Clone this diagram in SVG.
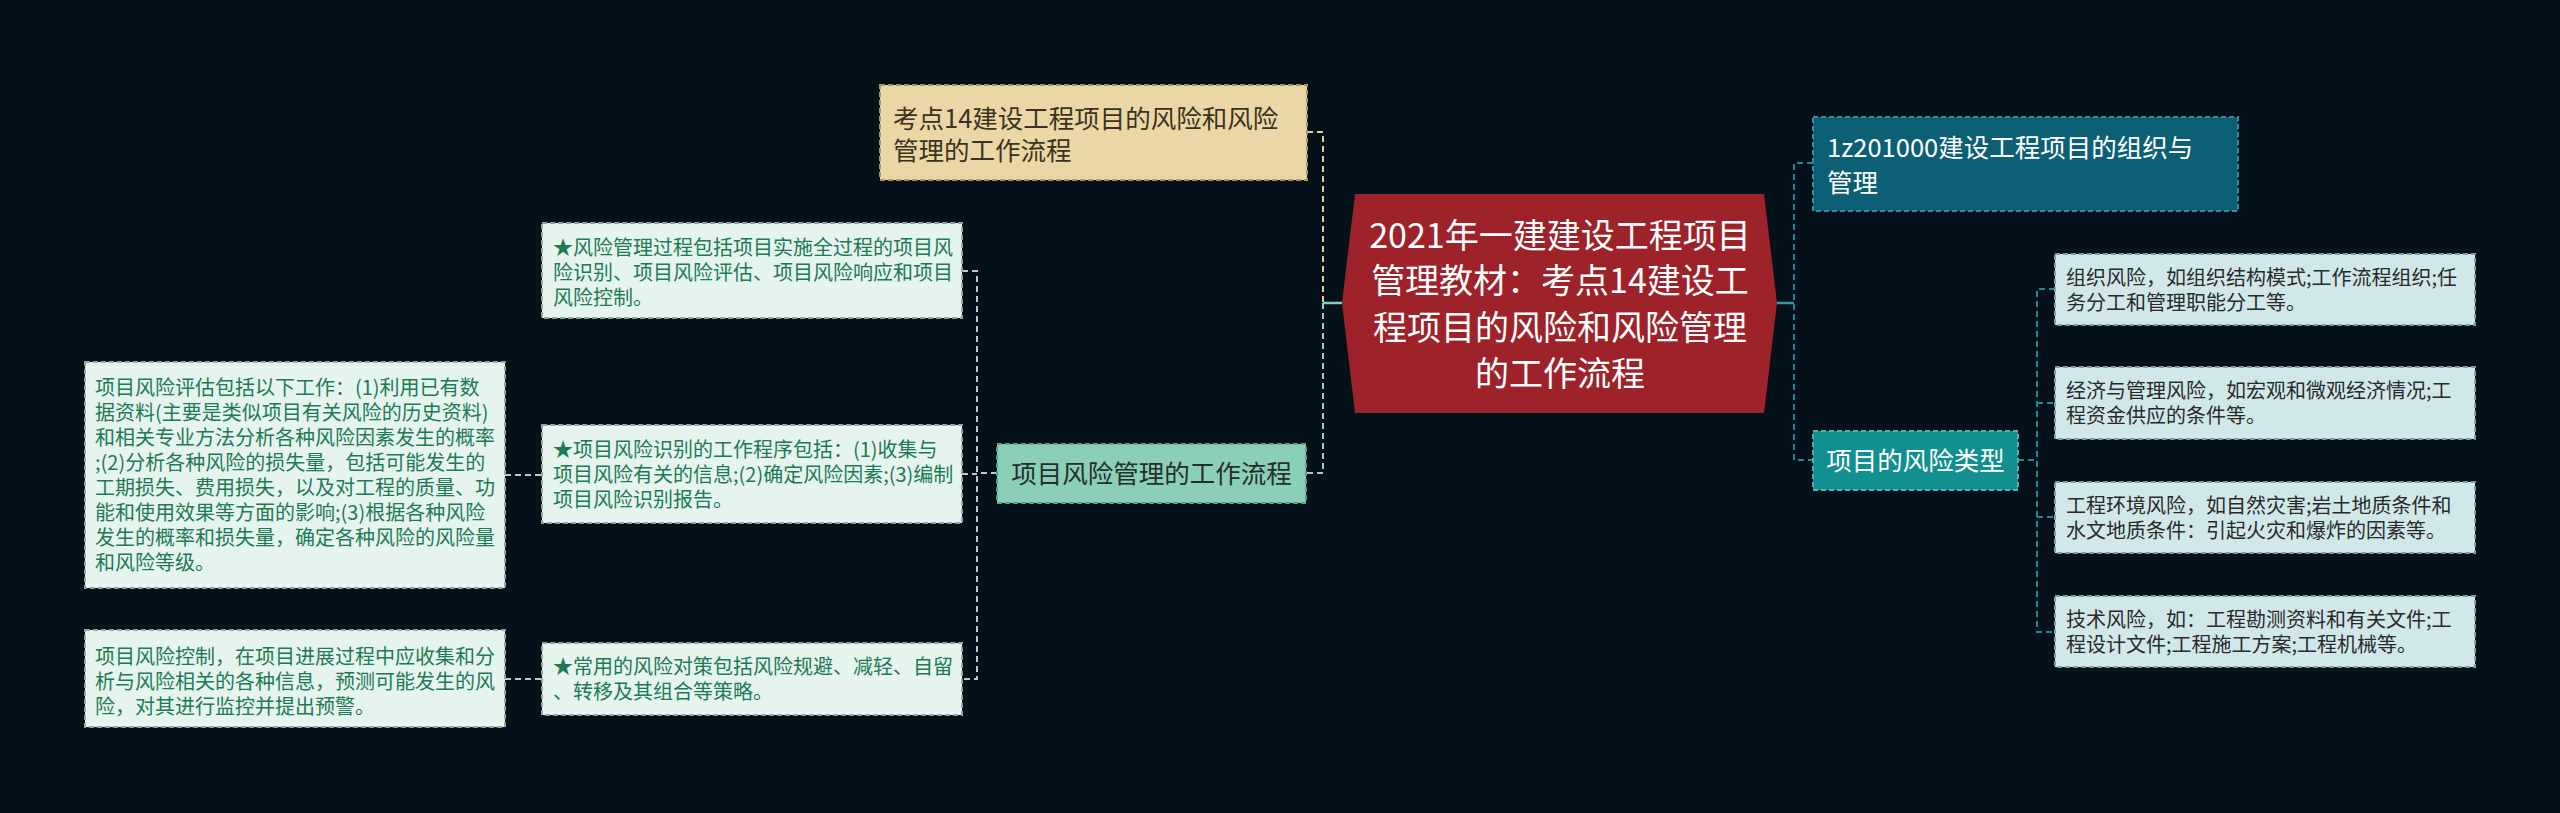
<svg xmlns="http://www.w3.org/2000/svg" width="2560" height="813" viewBox="0 0 2560 813">
<style>
text{font-family:"Noto Sans CJK SC","Noto Sans",sans-serif;}
.s{font-size:20px;}
.m{font-size:25.5px;}
.c{font-size:34px;fill:#ffffff;}
.bx{stroke-width:2;stroke-dasharray:5 3;}
.tan{fill:#ead7a5;stroke:#a8966a;}
.tant{fill:#3a3322;}
.red{fill:#9e2229;}
.navy{fill:#0c5f74;stroke:#3f8a9c;}
.teal{fill:#12908f;stroke:#4fb3b0;}
.wt{fill:#ffffff;}
.rl{fill:#d0e8ea;stroke:#7f9ea2;}
.rlt{fill:#2a2a2a;}
.ll{fill:#e6f4ef;stroke:#8fa89f;}
.llt{fill:#1d7a55;}
.mint{fill:#8ccfb9;stroke:#5f9c89;}
.mintt{fill:#22302b;}
.cn{fill:none;stroke-width:2;stroke-dasharray:6 4;}
</style>
<rect x="0" y="0" width="2560" height="813" fill="#04111a"/>
<g id="connectors">
  <path class="cn" d="M1307 132 H1323 V303" stroke="#e2cf98"/>
  <path class="cn" d="M1323 303 V473 H1306" stroke="#93d3c0"/>
  <path d="M1323 303 H1342" fill="none" stroke="#7fd1c2" stroke-width="2.5"/>
  <path d="M1777 303 H1794" fill="none" stroke="#25a0a3" stroke-width="2.5"/>
  <path class="cn" d="M1813 163 H1794 V460 H1813" stroke="#1f8a95"/>
  <path class="cn" d="M2018 460 H2037" stroke="#1f8a95"/>
  <path class="cn" d="M2055 289 H2037 V632 H2055 M2037 403 H2055 M2037 517 H2055" stroke="#1f8a95"/>
  <path class="cn" d="M997 473 H977 M962 271 H977 V679 H962 M962 474 H977" stroke="#b9cdc6"/>
  <path class="cn" d="M505 475 H542 M505 679 H542" stroke="#b9cdc6"/>
</g>
<g id="node-center">
  <polygon class="red" points="1355,194 1764,194 1777,303 1764,413 1355,413 1342,303"/>
  <text class="c" text-anchor="middle" x="1560" y="248">2021年一建建设工程项目</text>
  <text class="c" text-anchor="middle" x="1560" y="293">管理教材：考点14建设工</text>
  <text class="c" text-anchor="middle" x="1560" y="340">程项目的风险和风险管理</text>
  <text class="c" text-anchor="middle" x="1560" y="386">的工作流程</text>
</g>
<g id="node-kaodian">
  <rect class="bx tan" x="880" y="85" width="427" height="95"/>
  <text class="m tant" x="893" y="128">考点14建设工程项目的风险和风险</text>
  <text class="m tant" x="893" y="160">管理的工作流程</text>
</g>
<g id="node-1z">
  <rect class="bx navy" x="1813" y="117" width="425" height="94"/>
  <text class="m wt" x="1827" y="157">1z201000建设工程项目的组织与</text>
  <text class="m wt" x="1827" y="192">管理</text>
</g>
<g id="node-risktype">
  <rect class="bx teal" x="1813" y="431" width="205" height="59"/>
  <text class="m wt" x="1915.5" y="470" text-anchor="middle">项目的风险类型</text>
</g>
<g id="node-r1">
  <rect class="bx rl" x="2055" y="254" width="420" height="71"/>
  <text class="s rlt" x="2066" y="285">组织风险，如组织结构模式;工作流程组织;任</text>
  <text class="s rlt" x="2066" y="310">务分工和管理职能分工等。</text>
</g>
<g id="node-r2">
  <rect class="bx rl" x="2055" y="367" width="420" height="72"/>
  <text class="s rlt" x="2066" y="398">经济与管理风险，如宏观和微观经济情况;工</text>
  <text class="s rlt" x="2066" y="423">程资金供应的条件等。</text>
</g>
<g id="node-r3">
  <rect class="bx rl" x="2055" y="482" width="420" height="71"/>
  <text class="s rlt" x="2066" y="513">工程环境风险，如自然灾害;岩土地质条件和</text>
  <text class="s rlt" x="2066" y="538">水文地质条件：引起火灾和爆炸的因素等。</text>
</g>
<g id="node-r4">
  <rect class="bx rl" x="2055" y="596" width="420" height="71"/>
  <text class="s rlt" x="2066" y="627">技术风险，如：工程勘测资料和有关文件;工</text>
  <text class="s rlt" x="2066" y="652">程设计文件;工程施工方案;工程机械等。</text>
</g>
<g id="node-flow">
  <rect class="bx mint" x="997" y="444" width="309" height="59"/>
  <text class="m mintt" x="1151.5" y="483" text-anchor="middle">项目风险管理的工作流程</text>
</g>
<g id="node-l1">
  <rect class="bx ll" x="542" y="223" width="420" height="95"/>
  <text class="s llt" x="553" y="255">★风险管理过程包括项目实施全过程的项目风</text>
  <text class="s llt" x="553" y="280">险识别、项目风险评估、项目风险响应和项目</text>
  <text class="s llt" x="553" y="305">风险控制。</text>
</g>
<g id="node-l2">
  <rect class="bx ll" x="542" y="425" width="420" height="98"/>
  <text class="s llt" x="553" y="457">★项目风险识别的工作程序包括：(1)收集与</text>
  <text class="s llt" x="553" y="482">项目风险有关的信息;(2)确定风险因素;(3)编制</text>
  <text class="s llt" x="553" y="507">项目风险识别报告。</text>
</g>
<g id="node-l3">
  <rect class="bx ll" x="542" y="643" width="420" height="72"/>
  <text class="s llt" x="553" y="674">★常用的风险对策包括风险规避、减轻、自留</text>
  <text class="s llt" x="553" y="699">、转移及其组合等策略。</text>
</g>
<g id="node-l2a">
  <rect class="bx ll" x="85" y="362" width="420" height="226"/>
  <text class="s llt" x="95" y="395">项目风险评估包括以下工作：(1)利用已有数</text>
  <text class="s llt" x="95" y="420">据资料(主要是类似项目有关风险的历史资料)</text>
  <text class="s llt" x="95" y="445">和相关专业方法分析各种风险因素发生的概率</text>
  <text class="s llt" x="95" y="470">;(2)分析各种风险的损失量，包括可能发生的</text>
  <text class="s llt" x="95" y="495">工期损失、费用损失，以及对工程的质量、功</text>
  <text class="s llt" x="95" y="520">能和使用效果等方面的影响;(3)根据各种风险</text>
  <text class="s llt" x="95" y="545">发生的概率和损失量，确定各种风险的风险量</text>
  <text class="s llt" x="95" y="570">和风险等级。</text>
</g>
<g id="node-l3a">
  <rect class="bx ll" x="85" y="630" width="420" height="97"/>
  <text class="s llt" x="95" y="664">项目风险控制，在项目进展过程中应收集和分</text>
  <text class="s llt" x="95" y="689">析与风险相关的各种信息，预测可能发生的风</text>
  <text class="s llt" x="95" y="714">险，对其进行监控并提出预警。</text>
</g>
</svg>
